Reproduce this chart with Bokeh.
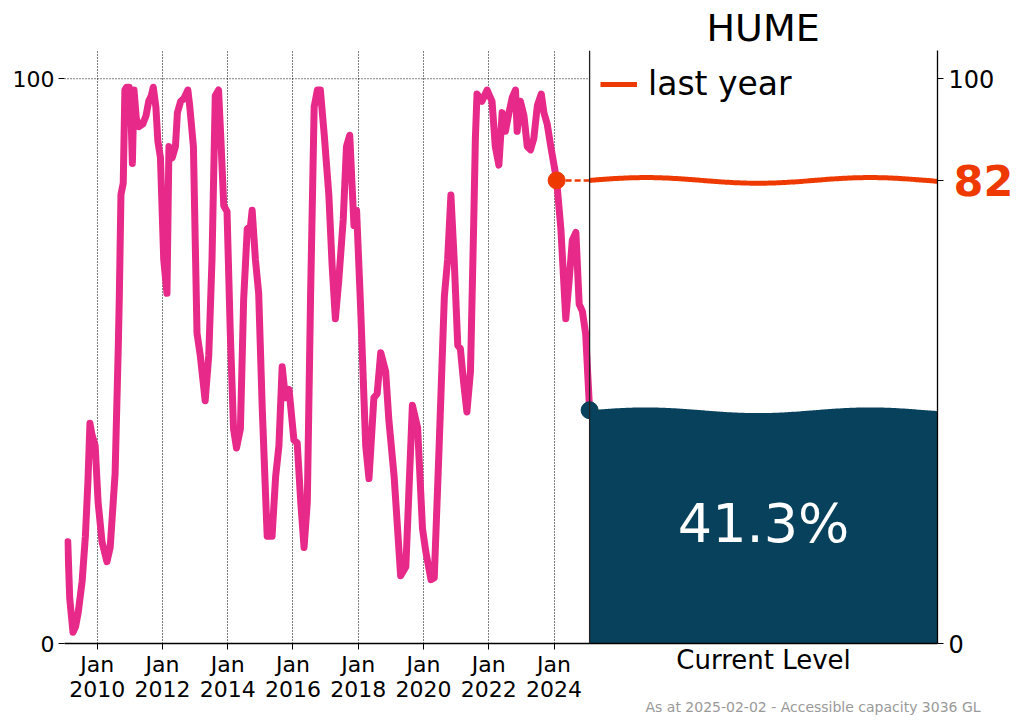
import numpy as np
from bokeh.plotting import figure
from bokeh.models import (Range1d, FixedTicker, LinearAxis, Label, Span,
                          Legend, LegendItem, Title)
from bokeh.embed import file_html
from bokeh.resources import INLINE

# ---------------- data ----------------
years = [2009.10, 2009.16, 2009.26, 2009.34, 2009.42, 2009.54, 2009.64, 2009.72,
         2009.78, 2009.84, 2009.94, 2010.03, 2010.15, 2010.30, 2010.40, 2010.55,
         2010.65, 2010.68, 2010.73, 2010.80, 2010.85, 2010.90, 2010.98, 2011.03,
         2011.08, 2011.13, 2011.20, 2011.28, 2011.40, 2011.50, 2011.58, 2011.66,
         2011.72, 2011.80, 2011.86, 2011.94, 2012.04, 2012.14, 2012.20, 2012.30,
         2012.40, 2012.46, 2012.56, 2012.66, 2012.78, 2012.84, 2012.95, 2013.06,
         2013.16, 2013.31, 2013.42, 2013.52, 2013.62, 2013.72, 2013.79, 2013.88,
         2013.98, 2014.08, 2014.18, 2014.27, 2014.39, 2014.49, 2014.60, 2014.70,
         2014.75, 2014.85, 2014.95, 2015.06, 2015.21, 2015.36, 2015.47, 2015.57,
         2015.67, 2015.77, 2015.88, 2016.03, 2016.13, 2016.24, 2016.34, 2016.44,
         2016.54, 2016.65, 2016.75, 2016.84, 2016.96, 2017.10, 2017.20, 2017.30,
         2017.40, 2017.54, 2017.64, 2017.74, 2017.87, 2017.95, 2018.07, 2018.23,
         2018.33, 2018.48, 2018.58, 2018.69, 2018.84, 2018.94, 2019.10, 2019.30,
         2019.46, 2019.53, 2019.66, 2019.82, 2019.97, 2020.07, 2020.23, 2020.33,
         2020.48, 2020.64, 2020.74, 2020.84, 2020.94, 2021.05, 2021.13, 2021.23,
         2021.33, 2021.44, 2021.54, 2021.59, 2021.64, 2021.79, 2021.95, 2022.10,
         2022.20, 2022.31, 2022.41, 2022.51, 2022.62, 2022.72, 2022.82, 2022.87,
         2022.97, 2023.08, 2023.18, 2023.28, 2023.38, 2023.49, 2023.61, 2023.69,
         2023.79, 2023.90, 2024.00, 2024.08, 2024.21, 2024.31, 2024.36, 2024.46,
         2024.56, 2024.67, 2024.77, 2024.87, 2024.97, 2025.03, 2025.09]
storage_pct = [18, 8, 2, 3, 5.5, 11, 19, 29,
               39, 37, 35, 25, 18, 14.5, 17, 30,
               53, 61.5, 79.5, 81.5, 98, 98.5, 98.5, 95,
               85, 98, 93, 91.5, 92, 93.5, 96, 97,
               98.5, 95, 89, 86, 68, 62, 88, 86,
               88, 94, 96, 96.5, 98, 95, 88, 55,
               51, 43, 51, 68, 97, 98, 89.5, 77.5,
               76.5, 55, 38, 34.6, 38, 61, 73.4, 74,
               76.7, 68, 62, 41.5, 19, 19, 29.6, 35,
               49, 43.5, 45, 36, 35.5, 25, 17, 25,
               61.5, 95, 98, 98, 90, 79.4, 67, 57.5,
               64, 75, 88, 90, 74, 76.7, 60, 35,
               29.2, 43.5, 44.2, 51.5, 48.2, 39.5, 29.6, 12,
               13.6, 23.6, 42.2, 38.2, 20.3, 16.3, 11.3, 11.6,
               35, 61.5, 68, 79.4, 68, 52.8, 52.2, 46.2,
               41, 48.2, 74.8, 89.4, 97.3, 96, 98, 96,
               88, 84.7, 94, 90.7, 94, 96.7, 98, 90.7,
               96, 93.4, 88, 87.4, 89.4, 95.3, 97.3, 94,
               92, 88, 84.7, 82, 73.4, 62.8, 57.5, 64.1,
               71.4, 72.8, 60.1, 58.8, 54.8, 48, 41.3]

current_pct = 41.3
last_year_pct = 82
last_year_date = 2024.08
dam_name = "HUME"
as_at = "2025-02-02"
capacity_gl = 3036
tick_years = [2010, 2012, 2014, 2016, 2018, 2020, 2022, 2024]
y_ticks = [0, 100]
panel_label = "Current Level"

# ---------------- styling ----------------
PINK = "#e7298a"
TEAL = "#08415c"
ORANGE = "#ee3a00"
FONT = "DejaVu Sans"

x_start = 2009.0
end_date = years[-1]
panel_span = 10.66            # width of the "Current Level" panel in x units
x_end = end_date + panel_span
y_top = 105
mid_panel = round(end_date + panel_span / 2, 2)

p = figure(frame_width=873, frame_height=593,
           x_range=Range1d(x_start, x_end), y_range=Range1d(0, y_top),
           output_backend="svg", toolbar_location=None,
           min_border_left=64, min_border_right=79,
           min_border_top=50, min_border_bottom=74)
p.outline_line_color = None
p.background_fill_color = "white"
p.border_fill_color = "white"

# x axis (years)
p.xaxis.ticker = FixedTicker(ticks=tick_years)
p.xaxis.major_label_overrides = {y: f"Jan\n{y}" for y in tick_years}
p.xaxis.major_label_text_font = FONT
p.xaxis.major_label_text_font_size = "22px"
p.xaxis.major_label_text_line_height = 1.0
p.xaxis.major_label_text_color = "black"
p.xaxis.axis_line_color = "black"
p.xaxis.axis_line_width = 1.3
p.xaxis.major_tick_out = 6
p.xaxis.major_tick_in = 0
p.xaxis.major_tick_line_color = "black"
p.xaxis.minor_tick_line_color = None
p.xaxis.major_label_standoff = 2

# left y axis
p.yaxis.ticker = FixedTicker(ticks=y_ticks)
p.yaxis.axis_line_color = None
p.yaxis.major_label_text_font = FONT
p.yaxis.major_label_text_font_size = "22px"
p.yaxis.major_label_text_color = "black"
p.yaxis.major_tick_out = 6
p.yaxis.major_tick_in = 0
p.yaxis.major_tick_line_color = "black"
p.yaxis.minor_tick_line_color = None
p.yaxis.major_label_standoff = 4

# right y axis (0 / 100, plus an unlabelled tick at last year's level)
ry = LinearAxis(ticker=FixedTicker(ticks=y_ticks + [last_year_pct]))
ry.major_label_overrides = {last_year_pct: ""}
ry.axis_line_color = "black"
ry.axis_line_width = 1.3
ry.major_label_text_font = FONT
ry.major_label_text_font_size = "24px"
ry.major_label_text_color = "black"
ry.major_tick_out = 6
ry.major_tick_in = 0
ry.minor_tick_line_color = None
ry.major_label_standoff = 5
p.add_layout(ry, "right")

# second right axis carrying the big "82" label, pulled back next to the spine
ry2 = LinearAxis(ticker=FixedTicker(ticks=[last_year_pct]))
ry2.axis_line_color = None
ry2.major_tick_line_color = None
ry2.major_tick_out = 0
ry2.major_tick_in = 0
ry2.minor_tick_line_color = None
ry2.major_label_text_font = FONT
ry2.major_label_text_font_size = "43px"
ry2.major_label_text_font_style = "bold"
ry2.major_label_text_color = ORANGE
ry2.major_label_standoff = -44
p.add_layout(ry2, "right")

# footer (directly under the year labels)
p.add_layout(Title(text=f"As at {as_at} - Accessible capacity {capacity_gl} GL",
                   align="left", offset=581, vertical_align="top", standoff=-12,
                   text_font=FONT, text_font_size="14px",
                   text_font_style="normal", text_color="#999999"), "below")

# caption of the right panel: an extra x axis whose label is pulled up
cx = LinearAxis(ticker=FixedTicker(ticks=[mid_panel]))
cx.major_label_overrides = {mid_panel: panel_label}
cx.axis_line_color = None
cx.major_tick_line_color = None
cx.major_tick_out = 0
cx.major_tick_in = 0
cx.minor_tick_line_color = None
cx.major_label_text_font = FONT
cx.major_label_text_font_size = "26px"
cx.major_label_text_color = "black"
cx.major_label_standoff = -66
p.add_layout(cx, "below")

# grid
p.xgrid.ticker = FixedTicker(ticks=tick_years)
p.xgrid.grid_line_color = "black"
p.xgrid.grid_line_dash = "1 2"
p.xgrid.grid_line_width = 1
p.ygrid.visible = False
p.segment(x0=[x_start], y0=[y_ticks[-1]], x1=[end_date], y1=[y_ticks[-1]],
          line_color="black", line_dash="1 2", line_width=1)

# storage history
p.line(years, storage_pct, line_color=PINK, line_width=7,
       line_join="round", line_cap="round")

# last-year marker
p.line([last_year_date, end_date], [last_year_pct, last_year_pct],
       line_color=ORANGE, line_width=2.5, line_dash="6 3")
p.scatter([last_year_date], [last_year_pct], size=17, fill_color=ORANGE,
          line_color=ORANGE)

# current level marker
p.scatter([end_date], [current_pct], size=17, fill_color=TEAL, line_color=TEAL)

# right panel: wavy water surface
xs = np.linspace(end_date, x_end, 200)
t = (xs - end_date) / panel_span
wave = 0.5 * np.sin(2 * np.pi * 1.55 * t)
p.varea(x=xs, y1=np.zeros_like(xs), y2=current_pct + wave, fill_color=TEAL)
wave_r = p.line(xs, last_year_pct + wave, line_color=ORANGE, line_width=5)

p.add_layout(Span(location=end_date, dimension="height",
                  line_color="#222222", line_width=1.3))

legend = Legend(items=[LegendItem(label="last year", renderers=[wave_r])],
                location=(536, 540), orientation="vertical")
legend.label_text_font = FONT
legend.label_text_font_size = "33px"
legend.label_text_color = "black"
legend.glyph_width = 37
legend.glyph_height = 30
legend.label_standoff = 11
legend.padding = 0
legend.margin = 0
legend.background_fill_alpha = 0
legend.border_line_color = None
p.add_layout(legend)

# big percentage inside the water
p.add_layout(Label(x=mid_panel, y=current_pct / 2 + 0.6, text=f"{current_pct}%",
                   text_align="center", text_baseline="middle",
                   text_font=FONT, text_font_size="54px", text_color="white"))

# title over the right panel
p.add_layout(Title(text=dam_name, align="left", offset=642,
                   vertical_align="middle", standoff=0,
                   text_font=FONT, text_font_size="38px",
                   text_font_style="normal", text_color="black"), "above")

open("out.html", "w").write(file_html(p, INLINE))
